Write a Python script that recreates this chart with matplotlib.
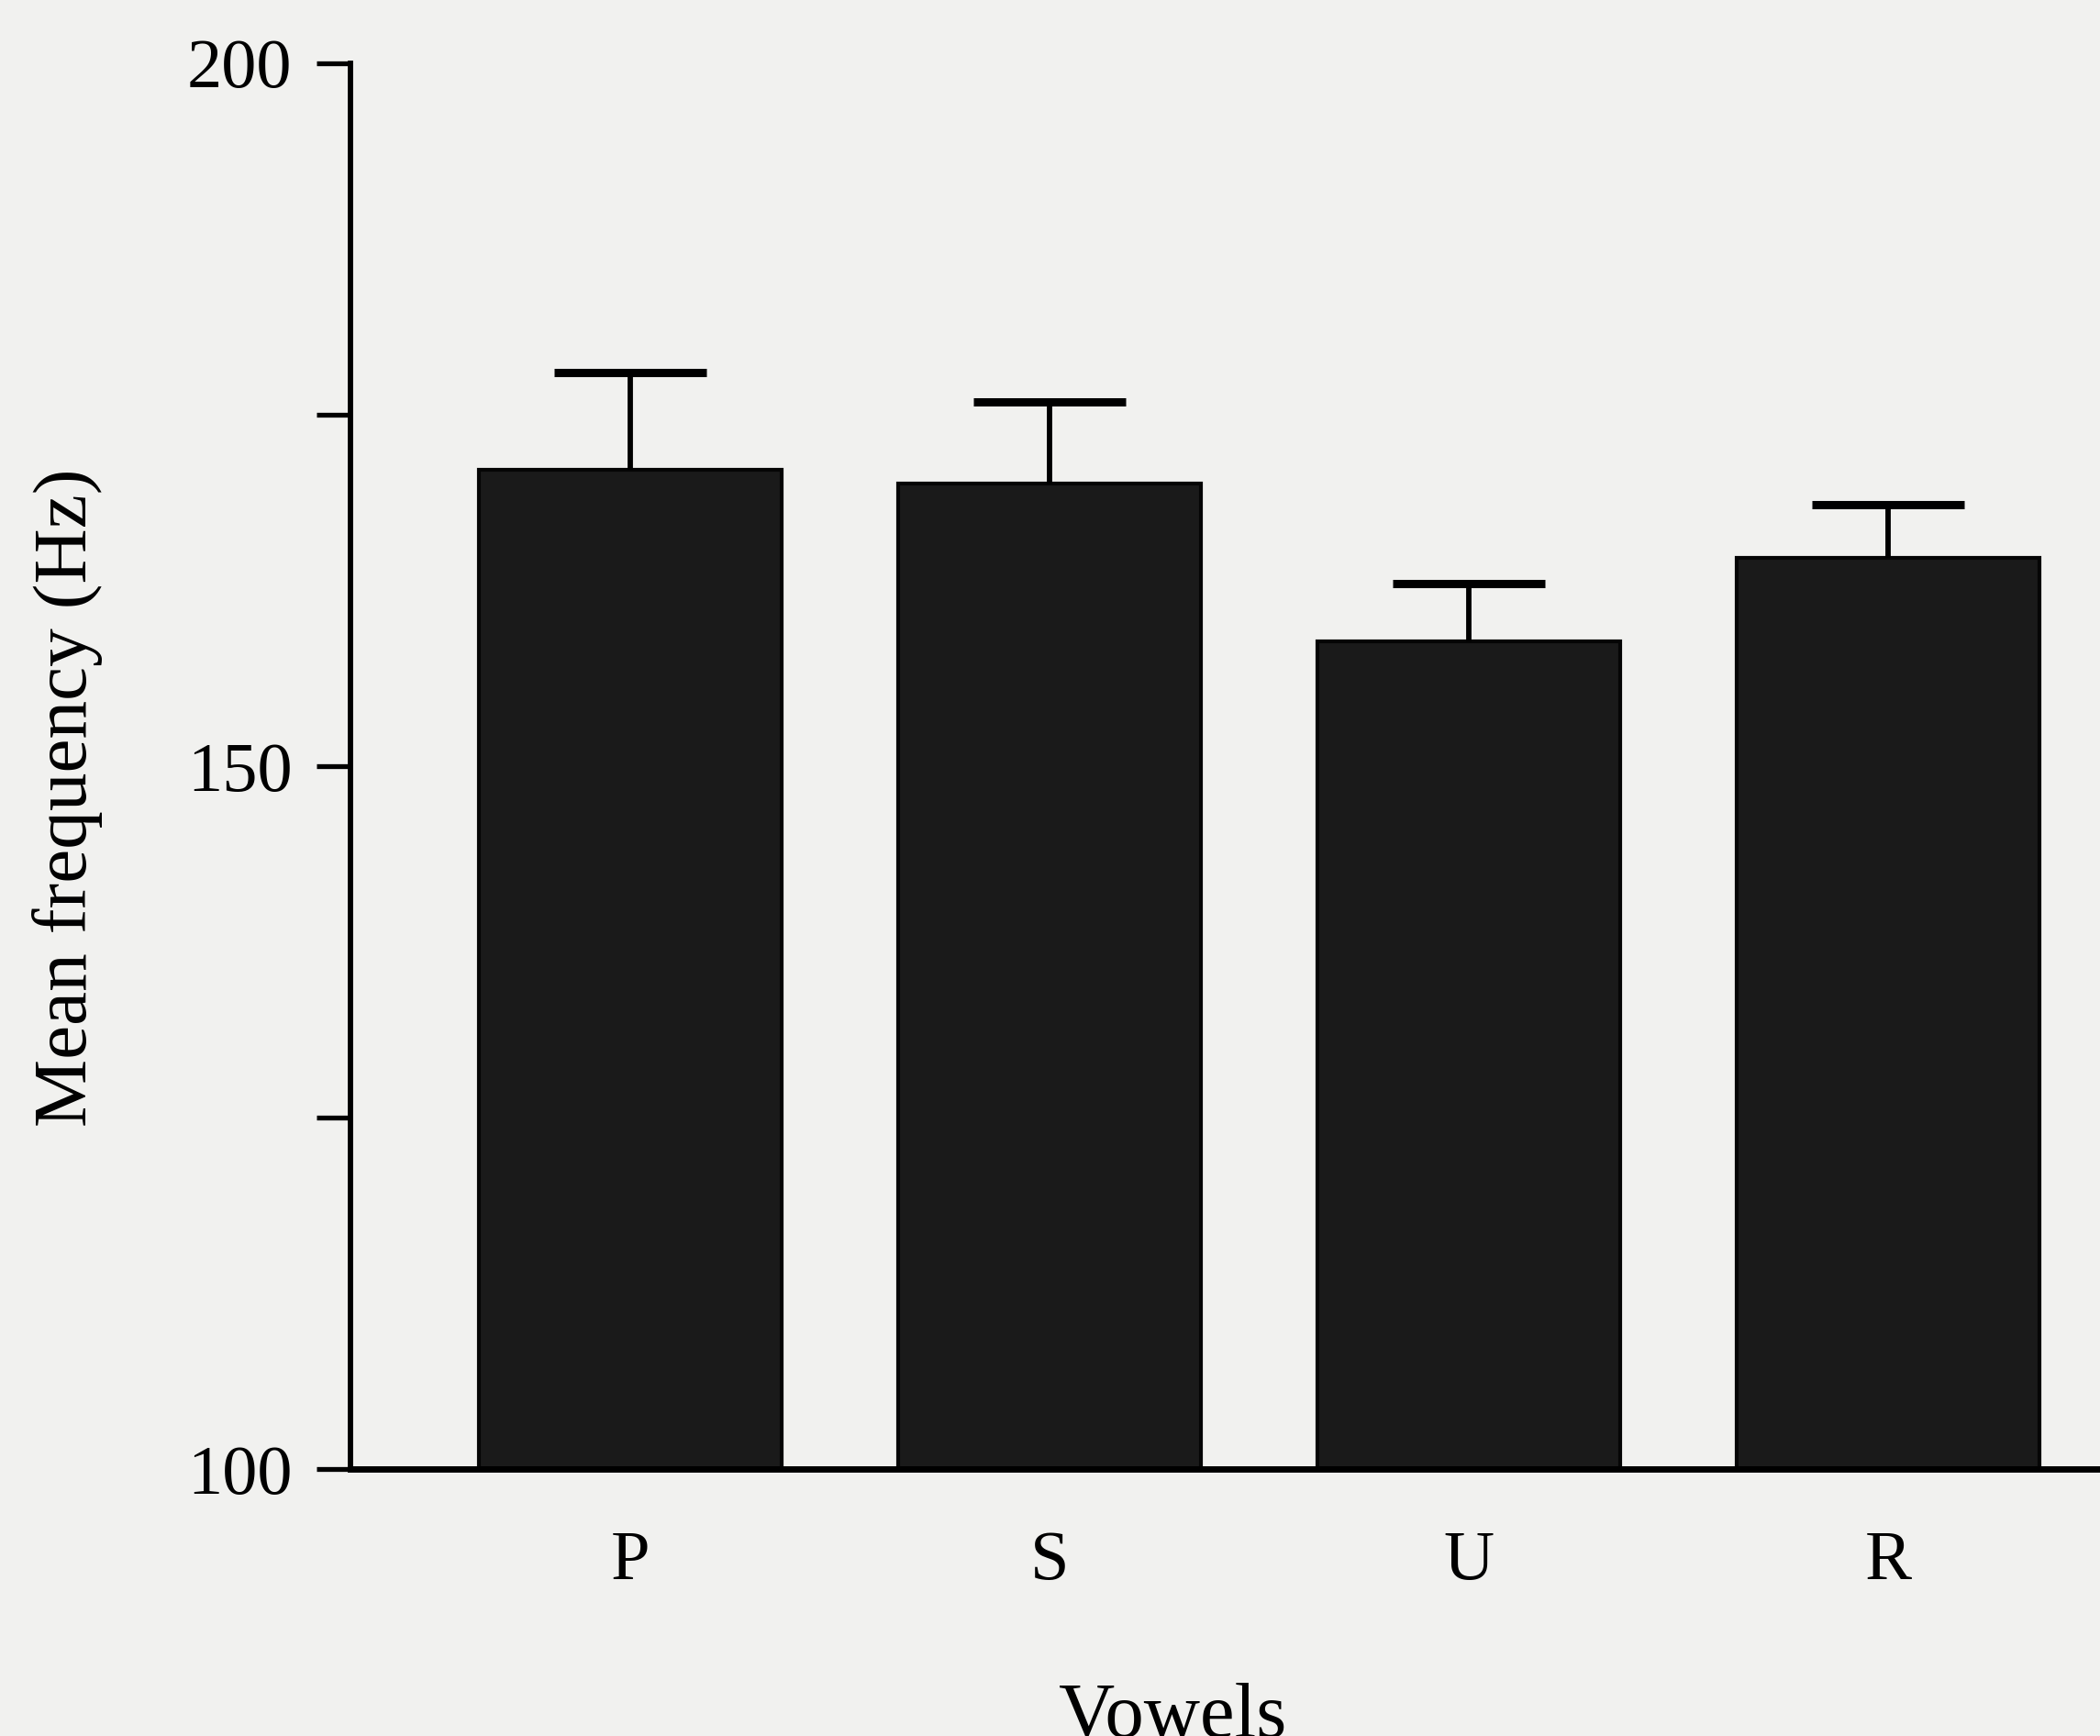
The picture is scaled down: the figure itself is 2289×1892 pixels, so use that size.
import matplotlib
matplotlib.use("Agg")
import matplotlib.pyplot as plt
import numpy as np

# mean fundamental frequency per vowel condition, with error bars (upper only)
vowels = ["P", "S", "U", "R"]
mean_hz = [171.1, 170.1, 158.9, 164.8]
err_hz = [6.9, 5.8, 4.1, 3.8]

yticks = [100, 125, 150, 175, 200]
ytick_labels = ["100", "", "150", "", "200"]

plt.rcParams["font.family"] = ["Liberation Serif", "DejaVu Serif"]

fig = plt.figure(figsize=(22.89, 18.92), dpi=100)
fig.patch.set_facecolor("#f1f1ef")
ax = fig.add_axes([0.1671, 0.1536, 0.8329, 0.8101])
ax.set_facecolor("none")

x = np.arange(len(vowels))
ax.bar(x, mean_hz, width=0.723, color="#1a1a1a", edgecolor="#050505",
       linewidth=3, zorder=2)
_, caps, _ = ax.errorbar(x, mean_hz, yerr=[np.zeros(len(err_hz)), err_hz],
                         fmt="none", ecolor="black", elinewidth=4.2,
                         capsize=60, capthick=6.5, zorder=3)
# only keep the upper cap
caps[0].set_visible(False)

ax.set_xlim(-0.666, 3.506)
ax.set_ylim(100, 200)

ax.spines["top"].set_visible(False)
ax.spines["right"].set_visible(False)
ax.spines["left"].set_linewidth(4.2)
ax.spines["bottom"].set_linewidth(5)

ax.set_yticks(yticks)
ax.set_yticklabels(ytick_labels)
ax.tick_params(axis="y", length=27, width=3.8, pad=19, labelsize=55)
ax.set_xticks(x)
ax.set_xticklabels(vowels)
ax.tick_params(axis="x", length=0, pad=48, labelsize=55)

ax.set_ylabel("Mean frequency (Hz)", fontsize=60)
ax.yaxis.set_label_coords(-0.1623, 0.478)
ax.yaxis.label.set_va("center")

ax.set_xlabel("Vowels", fontsize=61)
ax.xaxis.set_label_coords(0.470, -0.190)
ax.xaxis.label.set_va("baseline")

fig.savefig("out.png", dpi=100, facecolor=fig.get_facecolor())
